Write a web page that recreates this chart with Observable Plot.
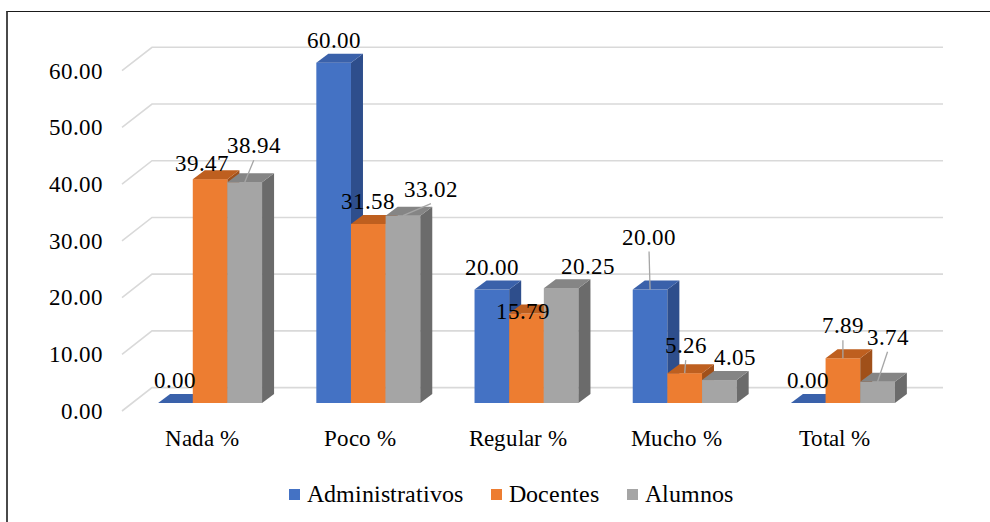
<!DOCTYPE html>
<html>
<head>
<meta charset="utf-8">
<script src="https://cdn.jsdelivr.net/npm/d3@7"></script>
<script src="https://cdn.jsdelivr.net/npm/@observablehq/plot@0.6"></script>
<style>
  @font-face { font-family: "ChartSerif"; src: local("Liberation Serif"), local("LiberationSerif-Regular"), local("Times New Roman"); }
  html, body { margin: 0; padding: 0; background: #fff; font-family: "ChartSerif", "Liberation Serif", serif; }
  #page { position: relative; width: 990px; height: 522px; overflow: hidden; background: #fff; }
  #frame { position: absolute; left: 6px; top: 11px; right: -10px; bottom: -10px;
           border-left: 2px solid #4a4a4a; border-top: 1px solid #1a1a1a; }
  #stage { position: absolute; left: 0; top: 0; }
  #legend { position: absolute; display: flex; align-items: center;
            font-family: "ChartSerif", "Liberation Serif", serif; color: #000; white-space: nowrap; }
  #legend .item { display: flex; align-items: center; }
  #legend .swatch { display: inline-block; width: 11px; height: 11px; }
</style>
</head>
<body>
<div id="page">
  <div id="frame"></div>
  <div id="stage"></div>
</div>
<script>
// ---- data ----
const categories = ["Nada %", "Poco %", "Regular %", "Mucho %", "Total %"];
const seriesNames = ["Administrativos", "Docentes", "Alumnos"];
const administrativos = [0.00, 60.00, 20.00, 20.00, 0.00];
const docentes = [39.47, 31.58, 15.79, 5.26, 7.89];
const alumnos = [38.94, 33.02, 20.25, 4.05, 3.74];
const yTicks = [0, 10, 20, 30, 40, 50, 60];

// ---- styling ----
const palette = [
  {front: "#4472C4", top: "#3A61AA", side: "#2E4E8C"},
  {front: "#ED7D31", top: "#BE5F1F", side: "#A0501A"},
  {front: "#A5A5A5", top: "#858585", side: "#6B6B6B"}
];
const FONT = "ChartSerif, 'Liberation Serif', serif";
const W = 990;
const H = 470;
const WALL = {dx: 30, dy: -23.4};   // front plane -> back wall
const FRONT = {dx: 9, dy: -8};      // front plane -> bar front faces
const DEPTH = {dx: 12, dy: -9};     // bar thickness
const BAR_FRAC = 0.219;             // bar width as share of the category band

// label nudges (px) relative to the default spot above each bar
const labelNudge = {
  "Docentes|Nada %": {dx: -8.5, dy: 7},
  "Alumnos|Nada %": {dx: 9, dy: -14, leader: true},
  "Alumnos|Poco %": {dx: 28, dy: -4, leader: true},
  "Docentes|Regular %": {dx: -4, dy: 21},
  "Alumnos|Regular %": {dx: 27, dy: 1},
  "Administrativos|Mucho %": {dx: -1, dy: -30, leader: true},
  "Docentes|Mucho %": {dx: 1, dy: -5, leader: true},
  "Alumnos|Mucho %": {dx: 16, dy: 0},
  "Docentes|Total %": {dx: 0, dy: -10, leader: true},
  "Alumnos|Total %": {dx: 10, dy: -22, leader: true}
};

const series = [administrativos, docentes, alumnos].map((values, j) => ({
  name: seriesNames[j], values, color: palette[j]
}));

const fmt = d3.format(".2f");

function bandGeometry(x, c, j) {
  const bw = x.bandwidth();
  const barW = bw * BAR_FRAC;
  const xl = x(c) + bw / 2 + FRONT.dx + (j - 1.5) * barW;
  return {xl, barW};
}

// back wall gridlines with the short receding segments on the left
function walls(index, {x, y}) {
  const g = d3.create("svg:g").attr("fill", "none").attr("stroke", "#D9D9D9").attr("stroke-width", 1.6);
  const [r0, r1] = x.range();
  for (const t of yTicks) {
    const yy = y(t);
    g.append("path").attr("d",
      `M${r0},${yy}L${r0 + WALL.dx},${yy + WALL.dy}L${r1 + WALL.dx},${yy + WALL.dy}`);
  }
  return g.node();
}

// 3D columns: front face, top face and right side face
function bars3d(index, {x, y}) {
  const g = d3.create("svg:g");
  categories.forEach((c, i) => {
    series.forEach((s, j) => {
      const v = s.values[i];
      const {xl, barW} = bandGeometry(x, c, j);
      const xr = xl + barW;
      const yt = y(v) + FRONT.dy, yb = y(0) + FRONT.dy;
      if (v > 0) {
        g.append("rect").attr("x", xl).attr("y", yt).attr("width", barW).attr("height", yb - yt)
          .attr("fill", s.color.front);
        g.append("path").attr("fill", s.color.side)
          .attr("d", `M${xr},${yt}L${xr + DEPTH.dx},${yt + DEPTH.dy}L${xr + DEPTH.dx},${yb + DEPTH.dy}L${xr},${yb}Z`);
      }
      g.append("path").attr("fill", s.color.top)
        .attr("d", `M${xl},${yt}L${xl + DEPTH.dx},${yt + DEPTH.dy}L${xr + DEPTH.dx},${yt + DEPTH.dy}L${xr},${yt}Z`);
    });
  });
  return g.node();
}

// value labels, with leader lines where a label sits away from its column
function valueLabels(index, {x, y}) {
  const g = d3.create("svg:g").attr("font-family", FONT).attr("font-size", 23).attr("fill", "#000");
  categories.forEach((c, i) => {
    series.forEach((s, j) => {
      const v = s.values[i];
      const {xl, barW} = bandGeometry(x, c, j);
      const cx = xl + barW / 2;
      const yt = y(v) + FRONT.dy;
      const n = labelNudge[`${s.name}|${c}`] || {dx: 0, dy: 0};
      const lx = cx + n.dx, ly = yt - 23 + n.dy;
      if (n.leader) {
        g.append("line").attr("x1", lx).attr("y1", ly + 15).attr("x2", cx).attr("y2", yt)
          .attr("stroke", "#A6A6A6").attr("stroke-width", 1.3);
      }
      g.append("text").attr("x", lx).attr("y", ly).attr("dy", "0.35em")
        .attr("text-anchor", "middle").text(fmt(v));
    });
  });
  return g.node();
}

const chart = Plot.plot({
  width: W,
  height: H,
  marginLeft: 122,
  marginRight: 990 - 913,
  marginTop: 70.7,
  marginBottom: H - 411,
  style: {fontFamily: FONT, fontSize: "23px", color: "#000", background: "transparent", overflow: "visible"},
  x: {type: "band", domain: categories, padding: 0, round: false, tickSize: 0, tickPadding: 18, label: null},
  y: {domain: [0, 60], ticks: yTicks, tickFormat: fmt, tickSize: 0, tickPadding: 20, label: null},
  marks: [walls, bars3d, valueLabels]
});

const stage = document.getElementById("stage");
stage.style.width = W + "px";
stage.style.height = "522px";
stage.appendChild(chart);

// legend below the plot
const legend = document.createElement("div");
legend.id = "legend";
legend.style.left = "289px";
legend.style.top = "482px";
legend.style.height = "24px";
legend.style.fontSize = "24px";
legend.style.gap = "28px";
series.forEach(s => {
  const item = document.createElement("span");
  item.className = "item";
  item.style.gap = "7px";
  const sw = document.createElement("span");
  sw.className = "swatch";
  sw.style.background = s.color.front;
  const label = document.createElement("span");
  label.textContent = s.name;
  item.append(sw, label);
  legend.appendChild(item);
});
stage.appendChild(legend);
</script>
</body>
</html>
